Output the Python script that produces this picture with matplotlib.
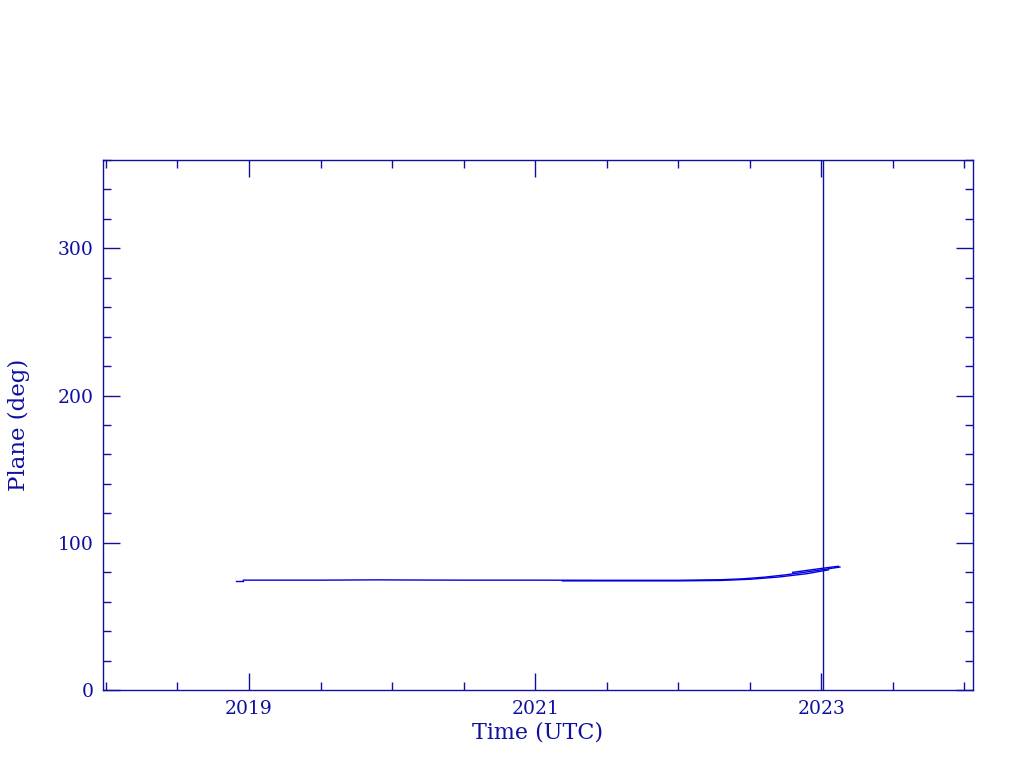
"""Orbit plane angle versus time."""

import matplotlib
matplotlib.use("Agg")
import matplotlib.pyplot as plt
from matplotlib.ticker import MultipleLocator

# main track (decimal year, plane angle in deg)
track_a_t = [2018.91, 2018.96]
track_a_v = [73.9, 73.9]

track_b_t = [2018.96, 2019.5, 2019.9, 2020.1, 2020.5, 2021.0, 2021.5,
             2022.0, 2022.3, 2022.45, 2022.6, 2022.75, 2022.9, 2023.0, 2023.13]
track_b_v = [74.6, 74.6, 74.8, 74.7, 74.6, 74.6, 74.5,
             74.5, 74.9, 75.5, 76.6, 78.2, 80.2, 81.6, 83.5]

track_c_t = [2021.19, 2021.5, 2022.0, 2022.3, 2022.5, 2022.7, 2022.9, 2023.05]
track_c_v = [74.1, 74.1, 74.1, 74.4, 75.2, 76.7, 79.0, 81.6]

track_d_t = [2022.8, 2022.95, 2023.05, 2023.12]
track_d_v = [79.9, 81.9, 83.2, 84.0]

marker_time = 2023.01

AXIS_C = "#1010a0"
LINE_C = "#0000e0"
FONT = "DejaVu Serif"

fig = plt.figure(figsize=(10.24, 7.68), dpi=100)
ax = fig.add_axes([0.1006, 0.1016, 0.8496, 0.6901])

for t, v in [(track_a_t, track_a_v), (track_b_t, track_b_v),
             (track_c_t, track_c_v), (track_d_t, track_d_v)]:
    ax.plot(t, v, color=LINE_C, lw=1.0)
ax.axvline(marker_time, color=AXIS_C, lw=1.0)

ax.set_xlim(2017.98, 2024.06)
ax.set_ylim(0, 360)
ax.xaxis.set_major_locator(MultipleLocator(2, offset=1))
ax.xaxis.set_minor_locator(MultipleLocator(0.5))
ax.yaxis.set_major_locator(MultipleLocator(100))
ax.yaxis.set_minor_locator(MultipleLocator(20))
ax.xaxis.set_major_formatter(lambda x, pos: f"{x:.0f}")

ax.tick_params(which="both", direction="in", top=True, right=True,
               colors=AXIS_C, width=1.0, labelsize=13.5)
ax.tick_params(which="major", length=12, pad=7)
ax.tick_params(which="minor", length=6)
for s in ax.spines.values():
    s.set_color(AXIS_C)
    s.set_linewidth(1.0)
for lab in ax.get_xticklabels() + ax.get_yticklabels():
    lab.set_family(FONT)

ax.set_xlabel("Time (UTC)", fontsize=16, family=FONT, color=AXIS_C, labelpad=3)
ax.set_ylabel("Plane (deg)", fontsize=16.5, family=FONT, color=AXIS_C, labelpad=20)

fig.savefig("out.png", dpi=100)
